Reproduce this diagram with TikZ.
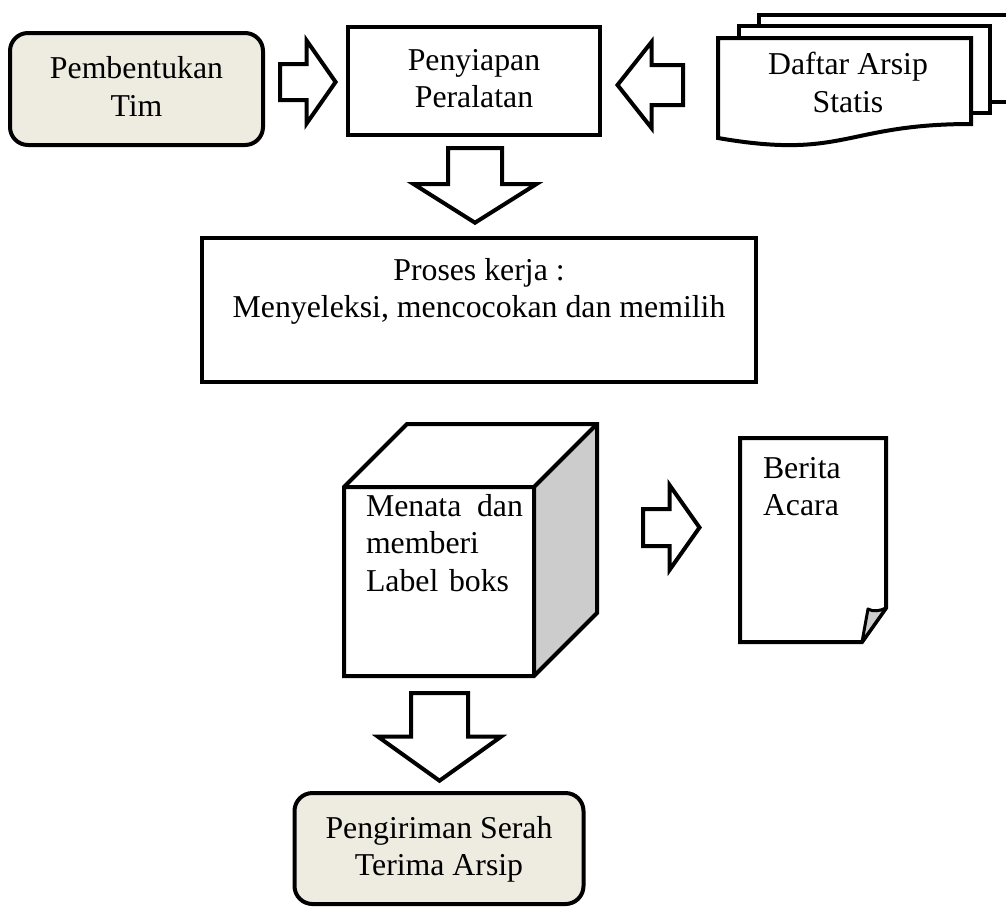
\documentclass[tikz,border=0pt]{standalone}
\usepackage{fontspec}
\setmainfont{Liberation Serif}
\usetikzlibrary{calc}

\definecolor{boxtan}{HTML}{EEECE1}
\definecolor{sidegray}{HTML}{CCCCCC}

\newcommand{\fatarrow}[5]{%
  \path #1 coordinate (fa-s) #2 coordinate (fa-t);
  \path ($(fa-t)!#5!(fa-s)$) coordinate (fa-h);
  \draw[fatarrowline] ($(fa-s)!#3!90:(fa-t)$) -- ($(fa-h)!#3!90:(fa-t)$) -- ($(fa-h)!#4!90:(fa-t)$) -- (fa-t)
    -- ($(fa-h)!#4!-90:(fa-t)$) -- ($(fa-h)!#3!-90:(fa-t)$) -- ($(fa-s)!#3!-90:(fa-t)$) -- cycle;}

\begin{document}
\begin{tikzpicture}[x=1pt,y=-1pt,
    every node/.style={font=\fontsize{31.8}{37.5}\selectfont,outer sep=0pt},
    roundbox/.style={draw,line width=4pt,rounded corners=18pt,fill=boxtan,align=center,text depth=5pt},
    plainbox/.style={draw,line width=4pt,fill=white,align=center,text depth=5pt},
    textonly/.style={align=center,text depth=5pt},
    shapeline/.style={line width=4pt,line join=miter},
    fatarrowline/.style={draw,line width=4pt,fill=white,line join=miter}]

  \useasboundingbox (0,0) rectangle (1006,906);

  \node[roundbox,minimum width=253pt,minimum height=112pt] (team) at (136.5,89) {Pembentukan\\Tim};
  \node[plainbox,minimum width=252pt,minimum height=108pt] (prep) at (474,81) {Penyiapan\\Peralatan};

  \fill[white] (759,15) rectangle (1040,102);
  \draw[shapeline] (1040,102) -- (759,102) -- (759,15) -- (1040,15);
  \draw[shapeline,fill=white] (739,26) rectangle (990,113);
  \draw[shapeline,fill=white] (718,38) -- (971,38) -- (971,124) .. controls (844.5,124) and (844.5,160) .. (718,138) -- cycle;
  \node[textonly] (list) at (848,85) {Daftar Arsip\\Statis};

  \node[plainbox,minimum width=554pt,minimum height=144pt] (process) at (479,310) {};
  \node[anchor=north,align=center,inner sep=0pt] (proctext) at ($(process.north)+(0,20.3)$) {Proses kerja :\\Menyeleksi, mencocokan dan memilih};

  \node[fill=white,minimum width=190pt,minimum height=189pt] (cube) at (439,581.5) {};
  \fill[white] (cube.north west) -- ++(63,-63) -- ++(190,0) -- (cube.north east) -- cycle;
  \fill[sidegray] (cube.north east) -- ++(63,-63) -- ++(0,189) -- (cube.south east) -- cycle;
  \draw[shapeline] (cube.south west) -- (cube.north west) -- ++(63,-63) -- ++(190,0) -- ++(0,189) -- (cube.south east) -- cycle;
  \draw[shapeline] (cube.north west) -- (cube.north east) -- (cube.south east) (cube.north east) -- ++(63,-63);
  \node[anchor=north west,text width=157pt,align=left,inner sep=0pt] (cubetext) at ($(cube.north west)+(22,7.3)$) {Menata\hfill dan\\memberi\\Label boks};

  \node[minimum width=146pt,minimum height=204pt] (minutes) at (813,540) {};
  \draw[shapeline,fill=white] (minutes.north west) -- (minutes.north east) -- ($(minutes.south east)+(0,-34)$)
    -- ($(minutes.south east)+(-24,0)$) -- (minutes.south west) -- cycle;
  \draw[line width=3pt,line join=round,fill=sidegray] ($(minutes.south east)+(-24,0)$) -- ($(minutes.south east)+(-18,-33)$)
    .. controls ($(minutes.south east)+(-13,-30)$) and ($(minutes.south east)+(-6,-31)$) .. ($(minutes.south east)+(0,-34)$) -- cycle;
  \node[anchor=north west,align=left,inner sep=0pt] (minutestext) at ($(minutes.north west)+(23,19.3)$) {Berita\\Acara};

  \node[roundbox,minimum width=289pt,minimum height=111pt] (final) at (439,848.5) {Pengiriman Serah\\Terima Arsip};

  \fatarrow{($(team.east |- prep.west)+(17,1)$)}{($(prep.west)+(-12.4,1)$)}{18pt}{41.5pt}{29pt}
  \fatarrow{($(prep.east)+(83,4)$)}{($(prep.east)+(17.5,4)$)}{20pt}{43pt}{34pt}
  \fatarrow{($(prep.south)+(1,13)$)}{($(process.north)+(-4,-15.3)$)}{27pt}{61.5pt}{38.7pt}
  \fatarrow{($(minutes.west)+(-97,-12.5)$)}{($(minutes.west)+(-40.5,-12.5)$)}{18.5pt}{42.5pt}{30pt}
  \fatarrow{($(cube.south)+(0.5,17)$)}{($(final.north)+(0.5,-12.3)$)}{28.5pt}{61.5pt}{44pt}

\end{tikzpicture}
\end{document}
